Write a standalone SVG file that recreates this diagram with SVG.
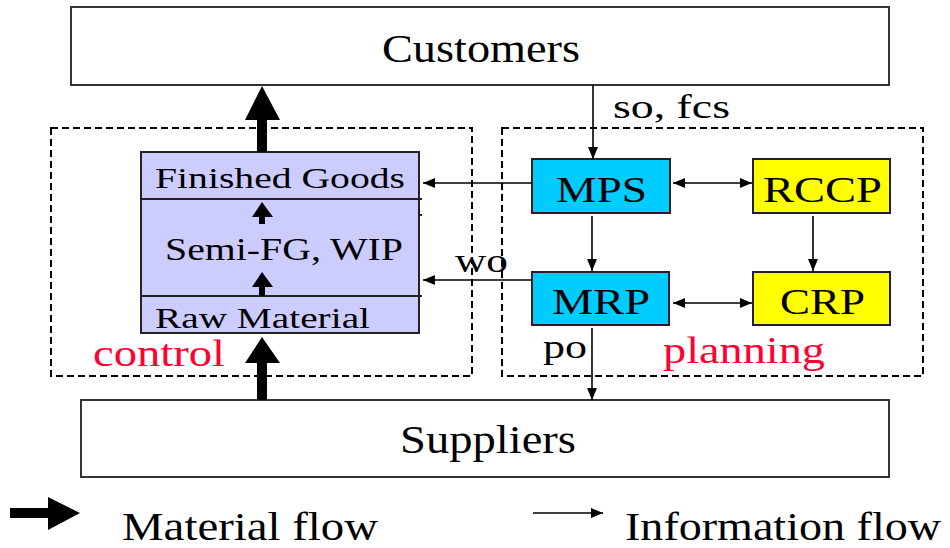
<svg xmlns="http://www.w3.org/2000/svg" width="950" height="548" viewBox="0 0 950 548">
<defs>
<marker id="ah" viewBox="0 0 12 10" refX="12" refY="5" markerWidth="12" markerHeight="10" markerUnits="userSpaceOnUse" orient="auto-start-reverse">
<path d="M0,0 L12,5 L0,10 Z" fill="#000"/>
</marker>
<style>
text{font-family:"Liberation Serif","Times New Roman",serif;fill:#000}
.box{fill:#fff;stroke:#333;stroke-width:2}
.dash{fill:none;stroke:#000;stroke-width:2;stroke-dasharray:7,4}
.inv{fill:#ccccff;stroke:#222;stroke-width:2}
.cyan{fill:#00ccff;stroke:#222;stroke-width:2}
.yel{fill:#ffff00;stroke:#222;stroke-width:2}
.thin{stroke:#000;stroke-width:1.6;fill:none}
.thick{fill:#000}
.red{fill:#ff0033}
</style>
</defs>
<rect x="0" y="0" width="950" height="548" fill="#fff"/>

<g id="control-region">
<rect class="dash" x="51" y="128" width="421" height="248"/>
<text class="red" x="93" y="366" font-size="38" textLength="132" lengthAdjust="spacingAndGlyphs">control</text>
</g>
<g id="planning-region">
<rect class="dash" x="502" y="128" width="421" height="248"/>
<text class="red" x="663" y="363" font-size="38" textLength="162" lengthAdjust="spacingAndGlyphs">planning</text>
</g>

<g id="customers">
<rect class="box" x="71" y="7" width="818" height="78"/>
<text x="382" y="62" font-size="40" textLength="198" lengthAdjust="spacingAndGlyphs">Customers</text>
</g>
<g id="suppliers">
<rect class="box" x="81" y="400" width="808" height="77"/>
<text x="400" y="453" font-size="39" textLength="176" lengthAdjust="spacingAndGlyphs">Suppliers</text>
</g>

<g id="inventory">
<rect class="inv" x="141" y="152" width="278" height="181"/>
<line x1="141" y1="199" x2="422" y2="199" stroke="#222" stroke-width="2"/>
<line x1="141" y1="296" x2="422" y2="296" stroke="#222" stroke-width="2"/>
<line x1="419" y1="215" x2="422" y2="215" stroke="#222" stroke-width="2"/>
<text x="155" y="188" font-size="29" textLength="250" lengthAdjust="spacingAndGlyphs">Finished Goods</text>
<text x="165" y="260" font-size="31" textLength="238" lengthAdjust="spacingAndGlyphs">Semi-FG, WIP</text>
<text x="155" y="328" font-size="30" textLength="215" lengthAdjust="spacingAndGlyphs">Raw Material</text>
<path class="thick" d="M262,202 L273,217 L265,217 L265,224 L259,224 L259,217 L252,217 Z"/>
<path class="thick" d="M262,272 L273,287 L265,287 L265,296 L259,296 L259,287 L252,287 Z"/>
</g>

<g id="mps">
<rect class="cyan" x="532" y="159" width="138" height="54"/>
<text x="556" y="202" font-size="36" textLength="91" lengthAdjust="spacingAndGlyphs">MPS</text>
</g>
<g id="rccp">
<rect class="yel" x="753" y="159" width="137" height="54"/>
<text x="763" y="202" font-size="36" textLength="119" lengthAdjust="spacingAndGlyphs">RCCP</text>
</g>
<g id="mrp">
<rect class="cyan" x="532" y="272" width="137" height="53"/>
<text x="552" y="314" font-size="36" textLength="98" lengthAdjust="spacingAndGlyphs">MRP</text>
</g>
<g id="crp">
<rect class="yel" x="753" y="272" width="137" height="53"/>
<text x="780" y="314" font-size="36" textLength="85" lengthAdjust="spacingAndGlyphs">CRP</text>
</g>

<g id="connectors">
<path class="thick" d="M262,86 L280,120 L267,120 L267,152 L257,152 L257,120 L245,120 Z"/>
<path class="thick" d="M262,337 L280,363 L267,363 L267,400 L257,400 L257,363 L245,363 Z"/>
<line class="thin" x1="593" y1="85" x2="593" y2="159" marker-end="url(#ah)"/>
<line class="thin" x1="532" y1="183" x2="423" y2="183" marker-end="url(#ah)"/>
<line class="thin" x1="532" y1="280" x2="423" y2="280" marker-end="url(#ah)"/>
<line class="thin" x1="673" y1="183" x2="752" y2="183" marker-start="url(#ah)" marker-end="url(#ah)"/>
<line class="thin" x1="673" y1="303" x2="752" y2="303" marker-start="url(#ah)" marker-end="url(#ah)"/>
<line class="thin" x1="592" y1="216" x2="592" y2="271" marker-end="url(#ah)"/>
<line class="thin" x1="813" y1="216" x2="813" y2="271" marker-end="url(#ah)"/>
<line class="thin" x1="592" y1="328" x2="592" y2="400" marker-end="url(#ah)"/>
<text x="613" y="118" font-size="34" textLength="117" lengthAdjust="spacingAndGlyphs">so, fcs</text>
<text x="455" y="272" font-size="34" textLength="53" lengthAdjust="spacingAndGlyphs">wo</text>
<text x="543" y="358" font-size="34" textLength="44" lengthAdjust="spacingAndGlyphs">po</text>
</g>

<g id="legend">
<path class="thick" d="M80,513 L48,497 L48,508 L10,508 L10,518 L48,518 L48,530 Z"/>
<text x="122" y="540" font-size="40" textLength="256" lengthAdjust="spacingAndGlyphs">Material flow</text>
<line class="thin" x1="533" y1="513" x2="603" y2="513" marker-end="url(#ah)"/>
<text x="625" y="540" font-size="40" textLength="316" lengthAdjust="spacingAndGlyphs">Information flow</text>
</g>
</svg>
